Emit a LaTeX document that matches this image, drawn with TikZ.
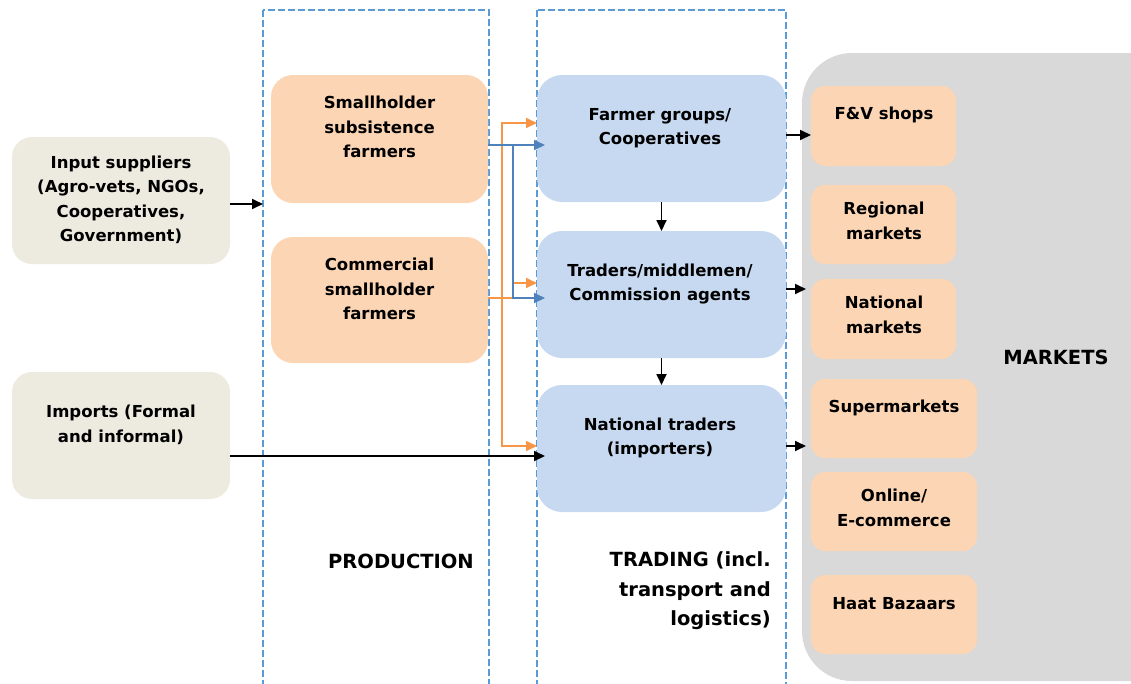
\documentclass[tikz,border=0pt]{standalone}
\usepackage{fontspec}
\setmainfont{DejaVu Sans}
\usetikzlibrary{arrows.meta,calc}
\definecolor{beige}{HTML}{EDEAE0}
\definecolor{peach}{HTML}{FBD5B4}
\definecolor{lblue}{HTML}{C6D9F0}
\definecolor{dashblue}{HTML}{5B9BD5}
\definecolor{mgray}{HTML}{D9D9D9}
\definecolor{orangeln}{HTML}{F79646}
\definecolor{blueln}{HTML}{4F81BD}
\tikzset{
  box/.style={rectangle, inner sep=0pt, outer sep=0pt},
  lbl/.style={align=center, font=\bfseries\fontsize{16.5}{24.5}\selectfont, inner sep=0pt},
  biglbl/.style={inner sep=0pt, font=\bfseries\fontsize{19.5}{29.5}\selectfont},
  zone/.style={draw=dashblue, line width=2.8pt, dash pattern=on 7pt off 3pt},
  arr/.style={-{Triangle[length=11pt,width=10pt]}, line width=1.8pt},
}
\begin{document}
\begin{tikzpicture}[x=1pt,y=-1pt]
\useasboundingbox (0,0) rectangle (1131,683);
\clip (0,0) rectangle (1131,683);
% markets background
\fill[mgray, rounded corners=50pt] (802,53) rectangle (1220,681);
% zones
\draw[zone] (263,10) rectangle (489,690);
\draw[zone] (537,10) rectangle (786,690);
% left boxes
\fill[beige, rounded corners=20pt] (12,137) rectangle (230,264);
\node[box, minimum width=218pt, minimum height=127pt] (inp) at (121,200.5) {};
\fill[beige, rounded corners=20pt] (12,372) rectangle (230,499);
\node[box, minimum width=218pt, minimum height=127pt] (imp) at (121,435.5) {};
% production
\fill[peach, rounded corners=22pt] (271,75) rectangle (488,203);
\node[box, minimum width=217pt, minimum height=128pt] (sub) at (379.5,139) {};
\fill[peach, rounded corners=22pt] (271,237) rectangle (488,363);
\node[box, minimum width=217pt, minimum height=126pt] (com) at (379.5,300) {};
% trading
\fill[lblue, rounded corners=25pt] (537,75) rectangle (786,202);
\node[box, minimum width=249pt, minimum height=127pt] (fg) at (661.5,138.5) {};
\fill[lblue, rounded corners=25pt] (537,231) rectangle (786,358);
\node[box, minimum width=249pt, minimum height=127pt] (tr) at (661.5,294.5) {};
\fill[lblue, rounded corners=25pt] (537,385) rectangle (786,512);
\node[box, minimum width=249pt, minimum height=127pt] (nt) at (661.5,448.5) {};
% market boxes
\fill[peach, rounded corners=14pt] (811,86) rectangle (956,166);
\node[box, minimum width=145pt, minimum height=80pt] (fv) at (883.5,126) {};
\fill[peach, rounded corners=14pt] (811,185) rectangle (956,264);
\node[box, minimum width=145pt, minimum height=79pt] (rm) at (883.5,224.5) {};
\fill[peach, rounded corners=14pt] (811,279) rectangle (956,359);
\node[box, minimum width=145pt, minimum height=80pt] (nm) at (883.5,319) {};
\fill[peach, rounded corners=14pt] (811,379) rectangle (977,458);
\node[box, minimum width=166pt, minimum height=79pt] (sm) at (894,418.5) {};
\fill[peach, rounded corners=14pt] (811,472) rectangle (977,551);
\node[box, minimum width=166pt, minimum height=79pt] (on) at (894,511.5) {};
\fill[peach, rounded corners=14pt] (811,575) rectangle (977,654);
\node[box, minimum width=166pt, minimum height=79pt] (hb) at (894,614.5) {};
% labels
\node[lbl] (tinp) at (121,200) {Input suppliers\\(Agro-vets, NGOs,\\Cooperatives,\\Government)};
\node[lbl] (timp) at (121,425) {Imports (Formal\\and informal)};
\node[lbl] (tsub) at (379.5,127) {Smallholder\\subsistence\\farmers};
\node[lbl] (tcom) at (379.5,289) {Commercial\\smallholder\\farmers};
\node[lbl] (tfg) at (660,128) {Farmer groups/\\Cooperatives};
\node[lbl] (ttr) at (660,284) {Traders/middlemen/\\Commission agents};
\node[lbl] (tnt) at (660,438) {National traders\\(importers)};
\node[lbl] (tfv) at (884,115) {F\&V shops};
\node[lbl] (trm) at (884,221) {Regional\\markets};
\node[lbl] (tnm) at (884,315) {National\\markets};
\node[lbl] (tsm) at (894,408) {Supermarkets};
\node[lbl] (ton) at (894,508) {Online/\\E-commerce};
\node[lbl] (thb) at (894,604) {Haat Bazaars};
\node[biglbl] (tmk) at (1056,357) {MARKETS};
\node[biglbl, anchor=east] (tprod) at (474,561) {PRODUCTION};
\node[biglbl, anchor=east, align=right] (ttrd) at (771,591) {TRADING (incl.\\transport and\\logistics)};
% connectors
\draw[arr] (inp.east |- 0,204) -- (263,204);
\draw[arr] (imp.east |- 0,456) -- ($(nt.west |- 0,456)+(8,0)$);
\draw[arr, orangeln] (com.east |- 0,298) -- (502,298) |- (fg.west |- 0,123);
\draw[arr, orangeln] (502,298) |- (nt.west |- 0,446);
\draw[arr, orangeln] (com.east |- 0,298) -- (513,298) |- (tr.west |- 0,283);
\draw[arr, blueln] (sub.east |- 0,145) -- ($(fg.west |- 0,145)+(8,0)$);
\draw[arr, blueln] (513,145) |- ($(tr.west |- 0,298)+(8,0)$);
\draw[arr] (fg.south) -- (tr.north);
\draw[arr] (tr.south) -- (nt.north);
\draw[arr] (fg.east |- 0,135) -- (fv.west |- 0,135);
\draw[arr] (tr.east |- 0,289) -- ($(nm.west |- 0,289)+(-5,0)$);
\draw[arr] (nt.east |- 0,446) -- ($(sm.west |- 0,446)+(-5,0)$);
\end{tikzpicture}
\end{document}
